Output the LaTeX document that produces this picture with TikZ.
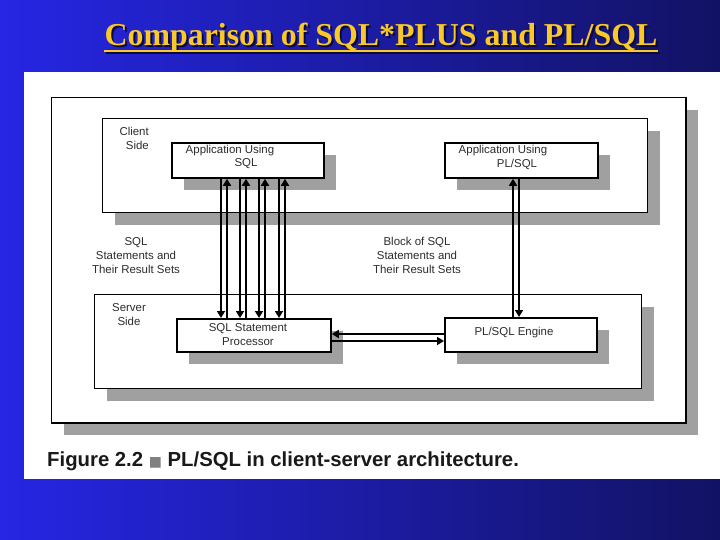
\documentclass[tikz,border=0pt]{standalone}
\usepackage{fontspec}
\setmainfont{Liberation Sans}
\newfontfamily\titlefont{Liberation Serif}
\newfontfamily\symfont{DejaVu Sans}
\usetikzlibrary{arrows.meta,shadows}
\definecolor{shadowgray}{RGB}{160,160,160}
\definecolor{titleyellow}{RGB}{250,200,40}
\definecolor{titleshadow}{RGB}{10,10,60}
\definecolor{bgleft}{RGB}{38,38,228}
\definecolor{bgright}{RGB}{18,18,100}
\definecolor{labelgray}{RGB}{45,45,45}
\newcommand{\titletext}{Comparison of SQL*PLUS and PL/SQL}
\begin{document}
\begin{tikzpicture}[x=1bp,y=-1bp,
  boxsh/.style={draw=black,fill=white,line width=#1,inner sep=0pt,anchor=north west,
    drop shadow={shadow xshift=12bp,shadow yshift=-12bp,fill=shadowgray,opacity=1,draw=none}},
  boxsh/.default=1.5pt,
  lbl/.style={font=\fontsize{11.5}{14}\selectfont,text=labelgray,inner sep=0pt},
  conn/.style={line width=1.8pt,-{Triangle[width=8pt,length=7pt]}}
]
\useasboundingbox (0,0) rectangle (720,540);
% background
\shade[left color=bgleft,right color=bgright] (0,0) rectangle (720,540);
\fill[white] (24,72) rectangle (720,479);
% title (with its shadow, in one node)
\node[anchor=base,inner sep=0pt,font=\titlefont\bfseries\fontsize{32}{36}\selectfont,text=titleyellow] (title) at (381,46)
  {\rlap{\hspace{2pt}\raisebox{-2pt}{\color{titleshadow}\titletext}}\titletext};
\draw[titleshadow,line width=2pt] ([xshift=2pt,yshift=-7pt]title.base west) -- ([xshift=2pt,yshift=-7pt]title.base east);
\draw[titleyellow,line width=2pt] ([yshift=-5pt]title.base west) -- ([yshift=-5pt]title.base east);
% frames
\node[boxsh=1.5pt,minimum width=634bp,minimum height=325bp] (outer) at (51,97) {};
\node[boxsh=1.4pt,minimum width=545bp,minimum height=94bp] (client) at (102,118) {};
\node[boxsh=1.8pt,minimum width=152bp,minimum height=35bp] (app1) at (171,142) {};
\node[boxsh=1.8pt,minimum width=153bp,minimum height=35bp] (app2) at (444,142) {};
\node[boxsh=1.4pt,minimum width=547bp,minimum height=94bp] (server) at (94,294) {};
\node[boxsh=1.8pt,minimum width=154bp,minimum height=33bp] (proc) at (176,318) {};
\node[boxsh=1.8pt,minimum width=152bp,minimum height=34bp] (engine) at (444,317) {};
% texts
\node[lbl,align=right,anchor=north east] (clientlbl) at (149,127) {Client\\Side};
\node[lbl] (app1a) at (230,151) {Application Using};
\node[lbl] (app1b) at (246,164) {SQL};
\node[lbl] (app2a) at (503,151) {Application Using};
\node[lbl] (app2b) at (517,164) {PL/SQL};
\node[lbl,align=center] (serverlbl) at (129,315) {Server\\Side};
\node[lbl,align=center] (proclbl) at (248,334.5) {SQL Statement\\Processor};
\node[lbl] (enginelbl) at (514,333) {PL/SQL Engine};
\node[lbl,align=center] (sqllbl) at (136,256) {SQL\\Statements and\\Their Result Sets};
\node[lbl,align=center] (blocklbl) at (417,255) {Block of SQL\\Statements and\\Their Result Sets};
% connectors
\foreach \u [count=\i] in {227,246,265,285}{
  \coordinate (up\i) at (\u,0);
  \draw[conn] (proc.north -| up\i) -- (app1.south -| up\i);
}
\foreach \d [count=\i] in {221,240,259,279}{
  \coordinate (dn\i) at (\d,0);
  \draw[conn] (app1.south -| dn\i) -- (proc.north -| dn\i);
}
\coordinate (pup) at (513,0);
\coordinate (pdn) at (519,0);
\draw[conn] (engine.north -| pup) -- (app2.south -| pup);
\draw[conn] (app2.south -| pdn) -- (engine.north -| pdn);
\coordinate (hl) at (0,334);
\coordinate (hr) at (0,341);
\draw[conn] (engine.west |- hl) -- (proc.east |- hl);
\draw[conn] (proc.east |- hr) -- (engine.west |- hr);
% caption
\node[anchor=base west,inner sep=0pt,font=\fontsize{20.4}{24}\selectfont\bfseries,text=black!90] (caption) at (47,466) {Figure 2.2 {\color{gray}\symfont\fontsize{14}{14}\selectfont ■} PL/SQL in client-server architecture.};
\end{tikzpicture}
\end{document}
